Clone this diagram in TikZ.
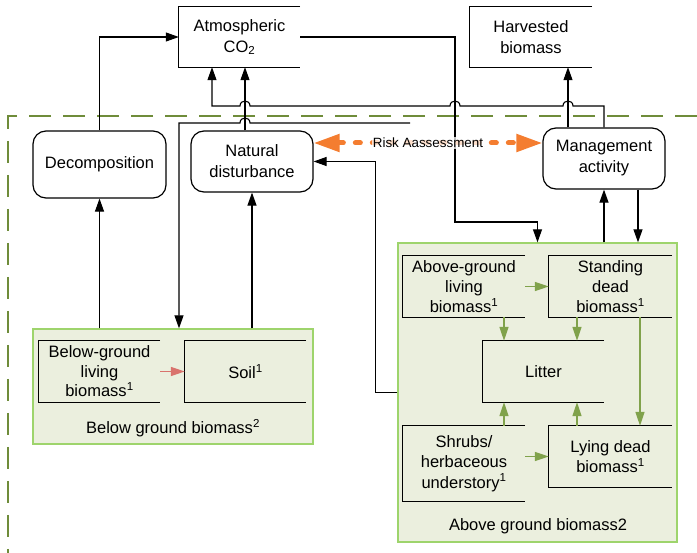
\documentclass[tikz,border=0pt]{standalone}
\usepackage{fontspec}
\setmainfont{Liberation Sans}
\usetikzlibrary{arrows.meta,calc}
\definecolor{grpfill}{RGB}{235,239,222}
\definecolor{grpline}{RGB}{158,212,108}
\definecolor{garrow}{RGB}{128,162,75}
\definecolor{rarrow}{RGB}{217,115,109}
\definecolor{orng}{RGB}{244,125,48}
\definecolor{bound}{RGB}{111,140,58}
\begin{document}
\begin{tikzpicture}[x=1pt,y=-1pt,
  every node/.style={font=\fontsize{16.5}{21}\selectfont, text=black, inner sep=0pt, align=center},
  rbox/.style={draw, line width=1.2pt, rounded corners=13pt},
  grp/.style={draw=grpline, fill=grpfill, line width=1.3pt},
  conn/.style={line width=1.1pt, -{Triangle[length=13pt,width=9pt]}},
  gconn/.style={draw=garrow, line width=1.4pt, -{Triangle[length=14pt,width=9pt]}},
  rconn/.style={draw=rarrow, line width=1.4pt, -{Triangle[length=14pt,width=9pt]}},
  risk/.style={draw=orng, line width=5pt, line cap=round, dash pattern=on 5pt off 12pt,
    {Triangle[length=26pt,width=17pt]}-{Triangle[length=26pt,width=17pt]}},
  risklabel/.style={font=\fontsize{13.4}{16}\selectfont, fill=white, fill opacity=0.75, text opacity=1, inner sep=1pt},
  boundary/.style={draw=bound, line width=2pt, dash pattern=on 22pt off 12pt}
]
\useasboundingbox (0,0) rectangle (697,553);

% dashed system boundary
\draw[boundary] (697,116) -- (8,116) -- (8,553);

% group boxes
\node[grp, minimum width=280pt, minimum height=115pt] (bg) at (173,386.5) {};
\node[grp, minimum width=279pt, minimum height=299pt] (ag) at (537.5,392.5) {};
\node (bglabel) at (173,428) {Below ground biomass\textsuperscript{2}};
\node (aglabel) at (538,526) {Above ground biomass2};

% open boxes
\node[minimum width=121pt, minimum height=60pt] (co2) at (239.5,37) {Atmospheric\\CO\textsubscript{2}};
\node[minimum width=122pt, minimum height=60pt] (harv) at (531,37) {Harvested\\biomass};
\node[minimum width=121pt, minimum height=61pt, font=\fontsize{16.5}{19.5}\selectfont] (bgl) at (99.5,371.5) {Below-ground\\living\\biomass\textsuperscript{1}};
\node[minimum width=121pt, minimum height=61pt] (soil) at (245.5,371.5) {Soil\textsuperscript{1}};
\node[minimum width=122pt, minimum height=61pt, font=\fontsize{16.5}{20}\selectfont] (agl) at (464,286.5) {Above-ground\\living\\biomass\textsuperscript{1}};
\node[minimum width=123pt, minimum height=61pt, font=\fontsize{16.5}{20}\selectfont] (sd) at (610.5,286.5) {Standing\\dead\\biomass\textsuperscript{1}};
\node[minimum width=121pt, minimum height=61pt] (lit) at (543.5,371.5) {Litter};
\node[minimum width=122pt, minimum height=75pt, font=\fontsize{16.5}{20.5}\selectfont] (shr) at (464,463.5) {Shrubs/\\herbaceous\\understory\textsuperscript{1}};
\node[minimum width=123pt, minimum height=61pt, font=\fontsize{16.5}{20}\selectfont] (ld) at (610.5,456.5) {Lying dead\\biomass\textsuperscript{1}};
\foreach \n in {co2,harv,bgl,soil,agl,sd,lit,shr,ld}
  \draw[line width=1.2pt] (\n.north east) -- (\n.north west) -- (\n.south west) -- (\n.south east);

% rounded process boxes
\node[rbox, minimum width=133pt, minimum height=67pt] (dec) at (99.5,164.5) {Decomposition};
\node[rbox, minimum width=122pt, minimum height=61pt] (nd) at (252,161.5) {Natural\\disturbance};
\node[rbox, minimum width=122pt, minimum height=61pt] (mgmt) at (604,158.5) {Management\\activity};

% black connectors
\draw[conn] (dec.north) |- (co2.west);
\draw[conn] ([xshift=-7pt]nd.north) -- ([xshift=5.5pt]co2.south);
\draw[conn] (mgmt.north) -- (604,106) -- (573,106)
  .. controls (573,99.3) and (563,99.3) .. (563,106) -- (460,106)
  .. controls (460,99.3) and (450,99.3) .. (450,106) -- (250,106)
  .. controls (250,99.3) and (240,99.3) .. (240,106) -- (212,106)
  -- ([xshift=-27.5pt]co2.south);
\draw[conn] ([xshift=-36pt]mgmt.north) -- ([xshift=-36pt]mgmt.north |- harv.south);
\draw[conn] (co2.east) -| (455,222) -| (ag.north);
\coordinate (loose) at (410,123);
\draw[conn] (loose) -- (250,123)
  .. controls (250,116.3) and (240,116.3) .. (240,123) -- (179,123)
  -- ([xshift=6pt]bg.north);
\draw[conn] (dec.south |- bg.north) -- (dec.south);
\draw[conn] (nd.south |- bg.north) -- (nd.south);
\draw[conn] (ag.west) -| ([xshift=62pt]nd.east) -- (nd.east);
\draw[conn] (mgmt.south |- ag.north) -- (mgmt.south);
\draw[conn] ([xshift=34pt]mgmt.south) -- ([xshift=34pt]mgmt.south |- ag.north);

% risk assessment
\draw[risk] ([yshift=18.5pt]nd.east) -- ([yshift=18.5pt]nd.east -| mgmt.west)
  node[midway, risklabel] (risktext) {Risk Aassessment};

% green connectors
\draw[gconn] (agl.east) -- (sd.west);
\draw[gconn] ([xshift=40pt]agl.south) -- ([xshift=40pt]agl.south |- lit.north);
\draw[gconn] ([xshift=-33.5pt]sd.south) -- ([xshift=-33.5pt]sd.south |- lit.north);
\draw[gconn] ([xshift=29.5pt]sd.south) -- ([xshift=29.5pt]sd.south |- ld.north);
\draw[gconn] ([xshift=40pt]shr.north) -- ([xshift=40pt]shr.north |- lit.south);
\draw[gconn] ([xshift=-33.5pt]ld.north) -- ([xshift=-33.5pt]ld.north |- lit.south);
\draw[gconn] (shr.east |- ld.west) -- (ld.west);
\draw[rconn] (bgl.east) -- (soil.west);
\end{tikzpicture}
\end{document}
